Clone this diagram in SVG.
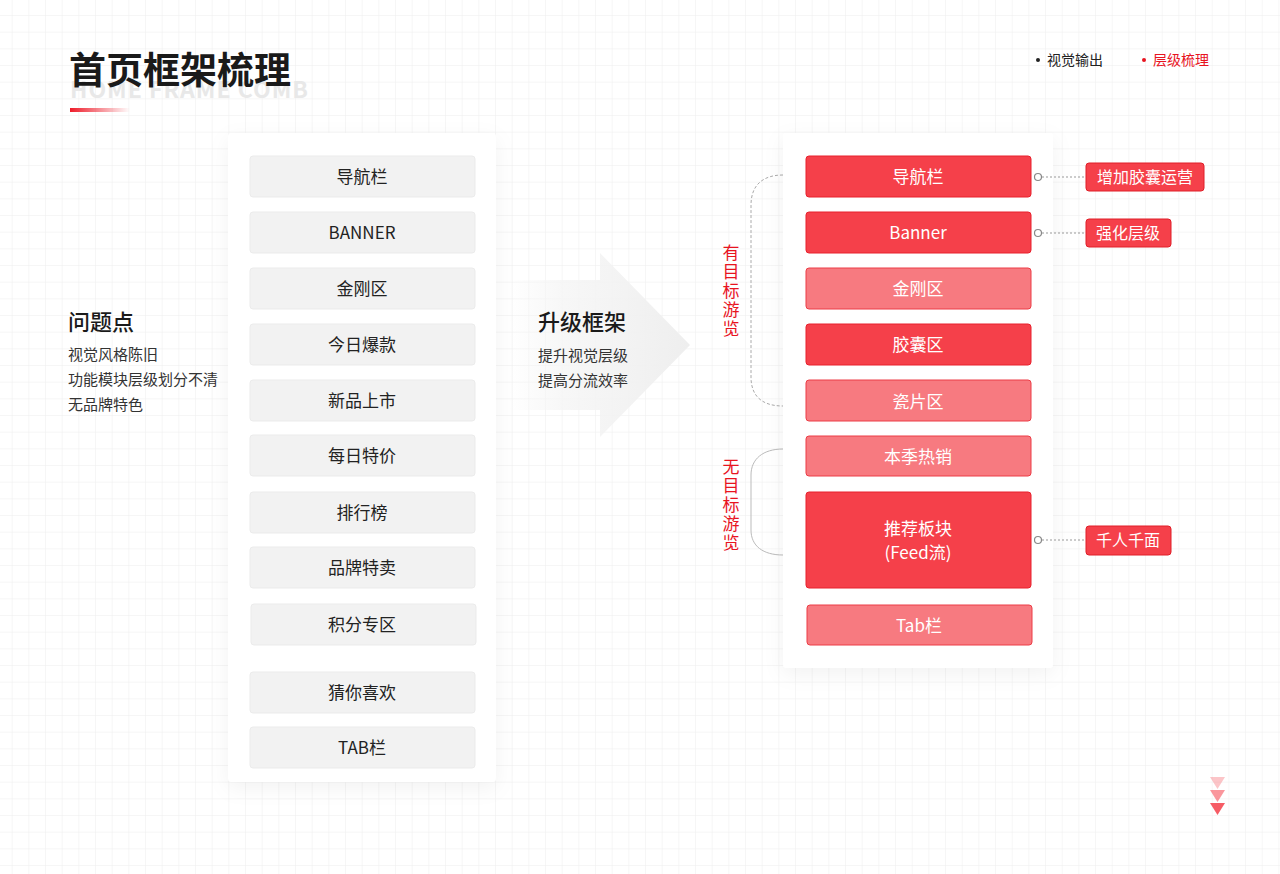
<svg xmlns="http://www.w3.org/2000/svg" width="1280" height="874" viewBox="0 0 1280 874">
<defs>
<pattern id="grid" x="11.7" y="15" width="16.667" height="16.667" patternUnits="userSpaceOnUse">
<path d="M0 0H16.667M0 0V16.667" fill="none" stroke="#eeeeee" stroke-width="1"/>
</pattern>
<linearGradient id="bar" x1="0" x2="1" y1="0" y2="0">
<stop offset="0" stop-color="#ee1c2a"/>
<stop offset="1" stop-color="#ee1c2a" stop-opacity="0"/>
</linearGradient>
<linearGradient id="arr" x1="510" x2="690" y1="0" y2="0" gradientUnits="userSpaceOnUse">
<stop offset="0" stop-color="#f4f4f4" stop-opacity="0"/>
<stop offset="0.3" stop-color="#f5f5f5" stop-opacity="0.8"/>
<stop offset="1" stop-color="#eeeeee"/>
</linearGradient>
<filter id="sh" x="-20%" y="-10%" width="140%" height="130%">
<feDropShadow dx="0" dy="6" stdDeviation="10" flood-color="#000" flood-opacity="0.05"/>
</filter>
<style>
.cn{font-family:"Noto Sans CJK SC","Noto Sans",sans-serif}
.g{fill:#f2f2f2;stroke:#ebebeb;stroke-width:1}
.gt{font-size:17px;fill:#222;text-anchor:middle}
.d{fill:#f5404a;stroke:#e8202c;stroke-width:1}
.l{fill:#f77a80;stroke:#ec3d46;stroke-width:1}
.wt{font-size:17px;fill:#fff;text-anchor:middle}
.tag{fill:#f5404a;stroke:#e01e28;stroke-width:1}
.tt{font-size:16px;fill:#fff;text-anchor:middle}
.dot{fill:none;stroke:#888;stroke-width:1.2}
.ln{stroke:#999;stroke-width:1;stroke-dasharray:2 2}
.sub{font-size:15px;fill:#333}
.vt{font-size:17px;fill:#e8141f;writing-mode:vertical-rl;letter-spacing:2px}
</style>
</defs>
<rect width="1280" height="874" fill="#ffffff"/>
<rect width="1280" height="874" fill="url(#grid)"/>

<g id="header">
<text x="70" y="98" class="cn" font-size="23" font-weight="700" fill="#e8e8e8" letter-spacing="1">HOME FRAME COMB</text>
<text x="69" y="84" class="cn" font-size="37" font-weight="700" fill="#1a1a1a">首页框架梳理</text>
<rect x="70" y="108" width="60" height="4" fill="url(#bar)"/>
<circle cx="1038" cy="60" r="2" fill="#222"/>
<text x="1047" y="65" class="cn" font-size="14" fill="#222">视觉输出</text>
<circle cx="1144" cy="60" r="2" fill="#e8141f"/>
<text x="1153" y="65" class="cn" font-size="14" fill="#e8141f">层级梳理</text>
</g>

<g id="problems">
<text x="68" y="330" class="cn" font-size="22" font-weight="500" fill="#1a1a1a">问题点</text>
<text x="68" y="360" class="cn sub">视觉风格陈旧</text>
<text x="68" y="385" class="cn sub">功能模块层级划分不清</text>
<text x="68" y="410" class="cn sub">无品牌特色</text>
</g>

<g id="upgrade">
<path d="M510 280H600V253L690 345L600 437V410H510Z" fill="url(#arr)"/>
<text x="538" y="330" class="cn" font-size="22" font-weight="500" fill="#1a1a1a">升级框架</text>
<text x="538" y="361" class="cn sub">提升视觉层级</text>
<text x="538" y="386" class="cn sub">提高分流效率</text>
</g>

<g id="old-frame">
<rect x="228" y="133" width="268" height="649" rx="4" fill="#fff" filter="url(#sh)"/>
<g id="o1"><rect x="250" y="156" width="225" height="41" rx="3" class="g"/><text x="362" y="183" class="cn gt">导航栏</text></g>
<g id="o2"><rect x="250" y="212" width="225" height="41" rx="3" class="g"/><text x="362" y="239" class="cn gt">BANNER</text></g>
<g id="o3"><rect x="250" y="268" width="225" height="41" rx="3" class="g"/><text x="362" y="295" class="cn gt">金刚区</text></g>
<g id="o4"><rect x="250" y="324" width="225" height="41" rx="3" class="g"/><text x="362" y="351" class="cn gt">今日爆款</text></g>
<g id="o5"><rect x="250" y="380" width="225" height="41" rx="3" class="g"/><text x="362" y="407" class="cn gt">新品上市</text></g>
<g id="o6"><rect x="250" y="435" width="225" height="41" rx="3" class="g"/><text x="362" y="462" class="cn gt">每日特价</text></g>
<g id="o7"><rect x="250" y="492" width="225" height="41" rx="3" class="g"/><text x="362" y="519" class="cn gt">排行榜</text></g>
<g id="o8"><rect x="250" y="547" width="225" height="41" rx="3" class="g"/><text x="362" y="574" class="cn gt">品牌特卖</text></g>
<g id="o9"><rect x="251" y="604" width="225" height="41" rx="3" class="g"/><text x="362" y="631" class="cn gt">积分专区</text></g>
<g id="o10"><rect x="250" y="672" width="225" height="41" rx="3" class="g"/><text x="362" y="699" class="cn gt">猜你喜欢</text></g>
<g id="o11"><rect x="250" y="727" width="225" height="41" rx="3" class="g"/><text x="362" y="754" class="cn gt">TAB栏</text></g>
</g>

<g id="groups">
<path d="M783 175C763 175 751 185 751 205V377C751 397 763 406 783 406" fill="none" stroke="#aaa" stroke-width="1" stroke-dasharray="3 2"/>
<path d="M783 449C763 449 751 459 751 475V530C751 546 763 555 783 555" fill="none" stroke="#bbb" stroke-width="1"/>
<text x="731" y="244" class="cn vt">有目标游览</text>
<text x="731" y="458" class="cn vt">无目标游览</text>
</g>

<g id="new-frame">
<rect x="783" y="133" width="270" height="535" rx="4" fill="#fff" filter="url(#sh)"/>
<g id="n1"><rect x="806" y="156" width="225" height="41" rx="3" class="d"/><text x="918" y="183" class="cn wt">导航栏</text></g>
<g id="n2"><rect x="806" y="212" width="225" height="41" rx="3" class="d"/><text x="918" y="239" class="cn wt">Banner</text></g>
<g id="n3"><rect x="806" y="268" width="225" height="41" rx="3" class="l"/><text x="918" y="295" class="cn wt">金刚区</text></g>
<g id="n4"><rect x="806" y="324" width="225" height="41" rx="3" class="d"/><text x="918" y="351" class="cn wt">胶囊区</text></g>
<g id="n5"><rect x="806" y="380" width="225" height="41" rx="3" class="l"/><text x="918" y="408" class="cn wt">瓷片区</text></g>
<g id="n6"><rect x="806" y="436" width="225" height="40" rx="3" class="l"/><text x="918" y="463" class="cn wt">本季热销</text></g>
<g id="n7"><rect x="806" y="492" width="225" height="96" rx="3" class="d"/><text x="918" y="535" class="cn wt">推荐板块</text><text x="918" y="559" class="cn wt">(Feed流)</text></g>
<g id="n8"><rect x="807" y="605" width="225" height="40" rx="3" class="l"/><text x="919" y="632" class="cn wt">Tab栏</text></g>
</g>

<g id="connectors">
<line x1="1042" y1="177" x2="1086" y2="177" class="ln"/>
<circle cx="1038" cy="177" r="3.5" class="dot" fill="#fff"/>
<line x1="1042" y1="233" x2="1086" y2="233" class="ln"/>
<circle cx="1038" cy="233" r="3.5" class="dot" fill="#fff"/>
<line x1="1042" y1="540" x2="1086" y2="540" class="ln"/>
<circle cx="1038" cy="540" r="3.5" class="dot" fill="#fff"/>
</g>

<g id="tags">
<g id="t1"><rect x="1086" y="163" width="118" height="28" rx="3" class="tag"/><text x="1145" y="183" class="cn tt">增加胶囊运营</text></g>
<g id="t2"><rect x="1086" y="219" width="85" height="28" rx="3" class="tag"/><text x="1128" y="239" class="cn tt">强化层级</text></g>
<g id="t3"><rect x="1086" y="526" width="85" height="29" rx="3" class="tag"/><text x="1128" y="546" class="cn tt">千人千面</text></g>
</g>

<g id="marks">
<path d="M1210 777H1225L1217.5 789Z" fill="#f5404a" opacity="0.3"/>
<path d="M1210 790H1225L1217.5 802Z" fill="#f5404a" opacity="0.55"/>
<path d="M1210 803H1225L1217.5 815Z" fill="#f5404a" opacity="0.85"/>
</g>
</svg>
